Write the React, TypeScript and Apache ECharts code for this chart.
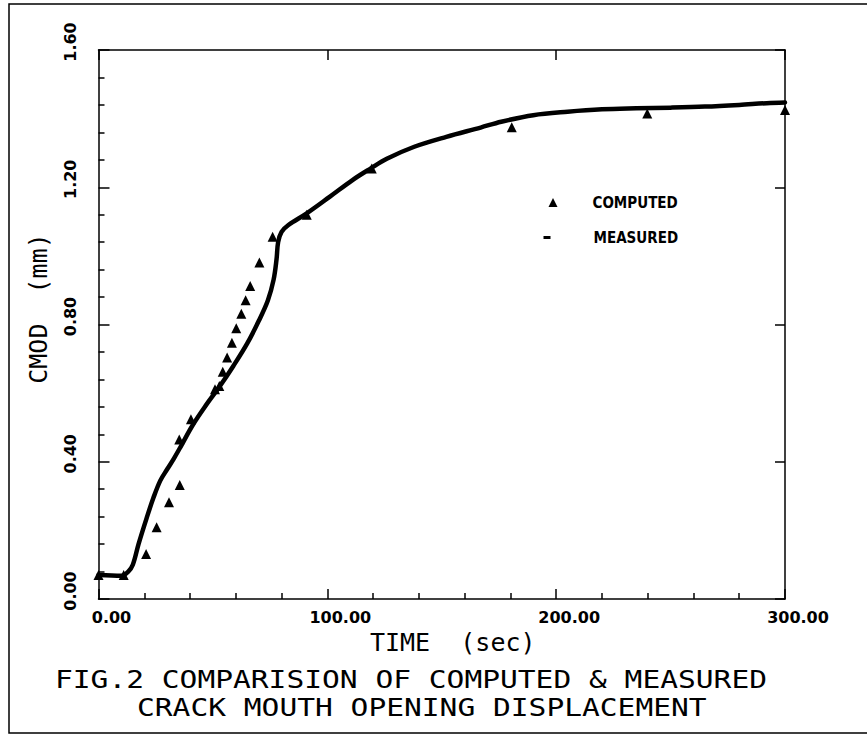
import React, { useEffect, useRef } from "react";
import * as echarts from "echarts";

// ---- data ----
const xTickLabels = [0, 100, 200, 300];
const yTickLabels = [0, 0.4, 0.8, 1.2, 1.6];

const measuredTime = [
  0, 10, 13, 15, 17.5, 21, 24, 27, 30, 33, 36, 41, 47, 53, 59, 65, 70, 74,
  76.5, 77.8, 78.5, 80, 83, 91, 101, 111, 119, 126, 138, 152, 167, 176, 190,
  205, 220, 235, 250, 265, 280, 292, 300,
];
const measuredCmod = [
  0.07, 0.068, 0.08, 0.1, 0.16, 0.235, 0.295, 0.345, 0.378, 0.41, 0.445,
  0.505, 0.565, 0.62, 0.68, 0.745, 0.81, 0.87, 0.93, 0.99, 1.04, 1.07, 1.09,
  1.124, 1.172, 1.221, 1.255, 1.283, 1.318, 1.347, 1.374, 1.391, 1.41, 1.42,
  1.427, 1.43, 1.432, 1.435, 1.44, 1.445, 1.447,
];

const computedTime = [
  0, 11, 20.8, 25.4, 30.8, 35.5, 35.3, 40.4, 50.9, 52.8, 54.3, 56.2, 58.3,
  60.2, 62.4, 64.3, 66.3, 70.3, 76.1, 91.0, 119.4, 180.6, 239.8, 300.0,
];
const computedCmod = [
  0.07, 0.07, 0.131, 0.209, 0.282, 0.332, 0.465, 0.524, 0.611, 0.621, 0.662,
  0.704, 0.747, 0.789, 0.831, 0.871, 0.912, 0.981, 1.056, 1.12, 1.255, 1.375,
  1.415, 1.425,
];

const seriesNames = ["COMPUTED", "MEASURED"];
const xAxisName = "TIME  (sec)";
const yAxisName = "CMOD  (mm)";
const titleLines = [
  "FIG.2 COMPARISION OF COMPUTED & MEASURED",
  "CRACK MOUTH OPENING DISPLACEMENT",
];

export default function App() {
  const ref = useRef<HTMLDivElement>(null);

  useEffect(() => {
    if (!ref.current) return;
    const chart = echarts.init(ref.current, null, { renderer: "svg" });

    const black = "#000";
    const tickFont = {
      color: black,
      fontFamily: "'DejaVu Sans', sans-serif",
      fontWeight: "bold" as const,
      fontSize: 16,
    };
    const nameFont = {
      color: black,
      fontFamily: "'DejaVu Sans Mono', monospace",
      fontSize: 25,
    };
    const legendFont = {
      color: black,
      fontFamily: "'Liberation Sans Narrow', 'DejaVu Sans Condensed', sans-serif",
      fontWeight: "bold" as const,
      fontSize: 15,
    };
    const axisLine = { show: true, onZero: false, lineStyle: { color: black, width: 1.5 } };

    const xMin = xTickLabels[0];
    const xMax = xTickLabels[xTickLabels.length - 1];
    const xStep = xTickLabels[1] - xTickLabels[0];
    const yMin = yTickLabels[0];
    const yMax = yTickLabels[yTickLabels.length - 1];
    const yStep = yTickLabels[1] - yTickLabels[0];

    const option: any = {
      animation: false,
      backgroundColor: "#fff",
      grid: { left: 98.5, top: 50, right: 82, bottom: 135 },
      xAxis: [
        {
          type: "value",
          min: xMin,
          max: xMax,
          interval: xStep,
          position: "bottom",
          axisLine,
          axisTick: { show: true, inside: true, length: 10, lineStyle: { color: black, width: 1.5 } },
          minorTick: { show: true, splitNumber: 5, length: 6, lineStyle: { color: black, width: 1.5 } },
          splitLine: { show: false },
          minorSplitLine: { show: false },
          axisLabel: {
            ...tickFont,
            margin: 10,
            padding: [0, 0, 0, 26],
            formatter: (v: number) => v.toFixed(2),
          },
          name: xAxisName,
          nameLocation: "middle",
          nameGap: 30,
          nameTextStyle: { ...nameFont, padding: [0, 0, 0, 22] },
        },
        {
          type: "value",
          min: xMin,
          max: xMax,
          interval: xStep,
          position: "top",
          axisLine,
          axisTick: { show: true, inside: true, length: 10, lineStyle: { color: black, width: 1.5 } },
          axisLabel: { show: false },
          splitLine: { show: false },
        },
      ],
      yAxis: [
        {
          type: "value",
          min: yMin,
          max: yMax,
          interval: yStep,
          position: "left",
          axisLine,
          axisTick: { show: true, inside: true, length: 11, lineStyle: { color: black, width: 1.5 } },
          minorTick: { show: true, splitNumber: 5, length: 6, lineStyle: { color: black, width: 1.5 } },
          splitLine: { show: false },
          minorSplitLine: { show: false },
          axisLabel: {
            ...tickFont,
            rotate: 90,
            margin: 20,
            padding: [0, 0, 0, 16],
            formatter: (v: number) => v.toFixed(2),
          },
          name: yAxisName,
          nameLocation: "middle",
          nameGap: 48,
          nameTextStyle: { ...nameFont, padding: [0, 0, 0, 32] },
        },
        {
          type: "value",
          min: yMin,
          max: yMax,
          interval: yStep,
          position: "right",
          axisLine,
          axisTick: { show: true, inside: true, length: 10, lineStyle: { color: black, width: 1.5 } },
          axisLabel: { show: false },
          splitLine: { show: false },
        },
      ],
      legend: [
        {
          data: [{ name: seriesNames[0], icon: "triangle" }],
          left: 548.5,
          top: 195,
          padding: 0,
          itemWidth: 9,
          itemHeight: 9,
          selectedMode: false,
          textStyle: { ...legendFont, padding: [0, 0, 0, 30] },
        },
        {
          data: [{ name: seriesNames[1], icon: "rect" }],
          left: 543.5,
          top: 230,
          padding: 0,
          itemWidth: 7,
          itemHeight: 3,
          selectedMode: false,
          textStyle: { ...legendFont, padding: [0, 0, 0, 38] },
        },
      ],
      series: [
        {
          name: seriesNames[0],
          type: "scatter",
          symbol: "triangle",
          symbolSize: 10,
          itemStyle: { color: black, opacity: 1 },
          data: computedTime.map((t, i) => [t, computedCmod[i]]),
          z: 3,
        },
        {
          name: seriesNames[1],
          type: "line",
          showSymbol: false,
          symbol: "none",
          smooth: 0.35,
          color: black,
          lineStyle: { color: black, width: 4.5, cap: "round", join: "round" },
          itemStyle: { color: black },
          data: measuredTime.map((t, i) => [t, measuredCmod[i]]),
          z: 2,
        },
      ],
      graphic: [
        {
          type: "rect",
          silent: true,
          shape: { x: 9, y: 4, width: 870, height: 729 },
          style: { fill: "none", stroke: black, lineWidth: 1.5 },
        },
        {
          type: "text",
          silent: true,
          x: 55,
          y: 679,
          scaleX: 1.183,
          style: {
            text: titleLines[0],
            fill: black,
            font: "25px 'DejaVu Sans Mono', monospace",
            align: "left",
            verticalAlign: "middle",
            textAlign: "left",
            textVerticalAlign: "middle",
          },
        },
        {
          type: "text",
          silent: true,
          x: 137,
          y: 707.5,
          scaleX: 1.183,
          style: {
            text: titleLines[1],
            fill: black,
            font: "25px 'DejaVu Sans Mono', monospace",
            align: "left",
            verticalAlign: "middle",
            textAlign: "left",
            textVerticalAlign: "middle",
          },
        },
      ],
    };

    chart.setOption(option);
    return () => chart.dispose();
  }, []);

  return (
    <div
      ref={ref}
      style={{ position: "fixed", left: 0, top: 0, width: 867, height: 734, background: "#fff" }}
    />
  );
}
